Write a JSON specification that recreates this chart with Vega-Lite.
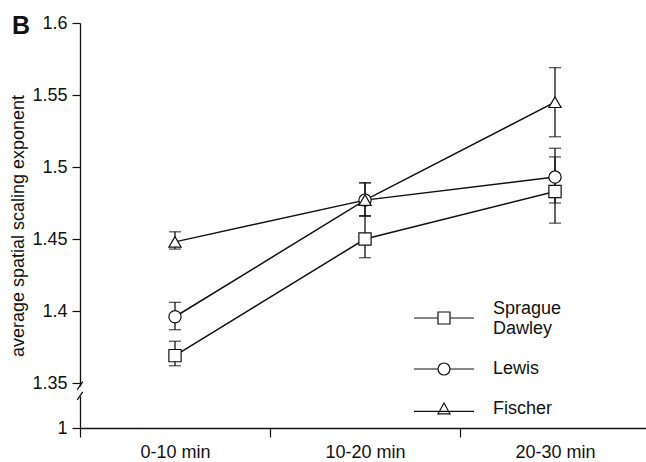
{
  "$schema": "https://vega.github.io/schema/vega-lite/v6.json",
  "width": 566,
  "height": 405,
  "autosize": {"type": "none"},
  "padding": {"left": 80, "top": 23, "right": 0, "bottom": 34},
  "config": {
    "view": {"stroke": null},
    "font": "Liberation Sans",
    "axis": {"grid": false, "domainColor": "#111", "tickColor": "#111", "labelColor": "#111", "titleColor": "#111", "labelFont": "Liberation Sans", "titleFont": "Liberation Sans", "titleFontWeight": "normal", "labelFontSize": 18},
    "axisY": {"titleFontSize": 18, "titlePadding": 4}
  },
  "title": {"text": "B", "fontSize": 25, "fontWeight": "bold", "anchor": "start", "frame": "group", "dx": -68, "dy": 45, "baseline": "alphabetic", "offset": 0, "color": "#111", "font": "Liberation Sans"},
  "data": {
    "values": [
      {"time": "0-10 min", "strain": "Sprague Dawley", "mean": 1.369, "lo": 1.362, "hi": 1.379},
      {"time": "10-20 min", "strain": "Sprague Dawley", "mean": 1.450, "lo": 1.437, "hi": 1.466},
      {"time": "20-30 min", "strain": "Sprague Dawley", "mean": 1.483, "lo": 1.461, "hi": 1.507},
      {"time": "0-10 min", "strain": "Lewis", "mean": 1.396, "lo": 1.387, "hi": 1.406},
      {"time": "10-20 min", "strain": "Lewis", "mean": 1.477, "lo": 1.466, "hi": 1.489},
      {"time": "20-30 min", "strain": "Lewis", "mean": 1.493, "lo": 1.475, "hi": 1.513},
      {"time": "0-10 min", "strain": "Fischer", "mean": 1.448, "lo": 1.443, "hi": 1.455},
      {"time": "10-20 min", "strain": "Fischer", "mean": 1.477, "lo": 1.466, "hi": 1.489},
      {"time": "20-30 min", "strain": "Fischer", "mean": 1.545, "lo": 1.521, "hi": 1.569}
    ]
  },
  "layer": [
    {
      "mark": {"type": "line", "color": "#111", "strokeWidth": 1.5},
      "encoding": {
        "x": {"field": "time", "type": "nominal", "bandPosition": 0.5,
              "scale": {"type": "band", "domain": ["0-10 min", "10-20 min", "20-30 min"], "range": [0, 570], "paddingInner": 0, "paddingOuter": 0},
              "axis": {"title": null, "tickBand": "extent", "tickSize": 9, "tickWidth": 1.2, "domainWidth": 1.3, "labelPadding": 6, "labelAngle": 0, "labelFontSize": 18}},
        "y": {"field": "mean", "type": "quantitative",
              "scale": {"type": "linear", "domain": [1, 1.35, 1.6], "range": [405, 360, 0], "nice": false, "zero": false},
              "axis": {"title": "average spatial scaling exponent", "values": [1, 1.35, 1.4, 1.45, 1.5, 1.55, 1.6], "format": ".2~f", "tickSize": 8, "tickWidth": 1.2, "labelPadding": 5, "titleFontSize": 18, "titlePadding": 4, "domainDash": [32, 10, 600], "domainWidth": 1.3}},
        "detail": {"field": "strain"}
      }
    },
    {
      "mark": {"type": "errorbar", "ticks": {"size": 12}, "color": "#111", "thickness": 1.3},
      "encoding": {
        "x": {"field": "time", "type": "nominal", "bandPosition": 0.5},
        "y": {"field": "lo", "type": "quantitative",
              "axis": {"title": "average spatial scaling exponent", "values": [1, 1.35, 1.4, 1.45, 1.5, 1.55, 1.6], "format": ".2~f", "tickSize": 8, "tickWidth": 1.2, "labelPadding": 5, "titleFontSize": 18, "titlePadding": 4, "domainDash": [32, 10, 600], "domainWidth": 1.3}},
        "y2": {"field": "hi"}
      }
    },
    {
      "mark": {"type": "point", "filled": true, "fill": "white", "stroke": "#111", "strokeWidth": 1.2, "size": 150, "opacity": 1},
      "encoding": {
        "x": {"field": "time", "type": "nominal", "bandPosition": 0.5},
        "y": {"field": "mean", "type": "quantitative",
              "axis": {"title": "average spatial scaling exponent", "values": [1, 1.35, 1.4, 1.45, 1.5, 1.55, 1.6], "format": ".2~f", "tickSize": 8, "tickWidth": 1.2, "labelPadding": 5, "titleFontSize": 18, "titlePadding": 4, "domainDash": [32, 10, 600], "domainWidth": 1.3}},
        "shape": {"field": "strain", "type": "nominal", "scale": {"domain": ["Sprague Dawley", "Lewis", "Fischer"], "range": ["square", "circle", "triangle-up"]}, "legend": null}
      }
    },
    {
      "mark": {"type": "point", "filled": false, "stroke": "#111", "strokeWidth": 1.2, "size": 144, "opacity": 0},
      "encoding": {
        "x": {"field": "time", "type": "nominal", "bandPosition": 0.5},
        "y": {"field": "mean", "type": "quantitative",
              "axis": {"title": "average spatial scaling exponent", "values": [1, 1.35, 1.4, 1.45, 1.5, 1.55, 1.6], "format": ".2~f", "tickSize": 8, "tickWidth": 1.2, "labelPadding": 5, "titleFontSize": 18, "titlePadding": 4, "domainDash": [32, 10, 600], "domainWidth": 1.3}},
        "shape": {"field": "strain", "type": "nominal",
                  "scale": {"domain": ["Sprague Dawley", "Lewis", "Fischer"],
                            "range": ["M-5,1.5H-1M1,1.5H5M-1,0.5H1V2.5H-1Z", "M-5,0H-1M1,0H5M-1,0A1,1,0,1,0,1,0A1,1,0,1,0,-1,0Z", "M-5,0.4H5M0,-1L1,0.8L-1,0.8Z"]},
                  "legend": {"title": null, "orient": "none", "legendX": 355, "legendY": 277, "padding": 0, "labelFontSize": 18, "labelFont": "Liberation Sans", "labelColor": "#111", "labelOffset": 40, "rowPadding": 22, "symbolSize": 144, "symbolStrokeWidth": 1.2, "symbolFillColor": "white", "symbolStrokeColor": "#111", "symbolOpacity": 1,
                             "labelExpr": "datum.label == 'Sprague Dawley' ? ['Sprague', 'Dawley'] : datum.label"}}
      }
    },
    {
      "data": {"values": [{"brk": 1.33}, {"brk": 1.25}]},
      "mark": {"type": "point", "shape": "M-0.7,1L0.7,-1", "size": 64, "stroke": "#111", "strokeWidth": 1.3, "filled": false, "opacity": 1},
      "encoding": {
        "x": {"datum": "0-10 min", "bandPosition": 0},
        "y": {"field": "brk", "type": "quantitative",
              "axis": {"title": "average spatial scaling exponent", "values": [1, 1.35, 1.4, 1.45, 1.5, 1.55, 1.6], "format": ".2~f", "tickSize": 8, "tickWidth": 1.2, "labelPadding": 5, "titleFontSize": 18, "titlePadding": 4, "domainDash": [32, 10, 600], "domainWidth": 1.3}}
      }
    }
  ],
  "resolve": {"scale": {"shape": "independent"}, "legend": {"shape": "independent"}}
}
